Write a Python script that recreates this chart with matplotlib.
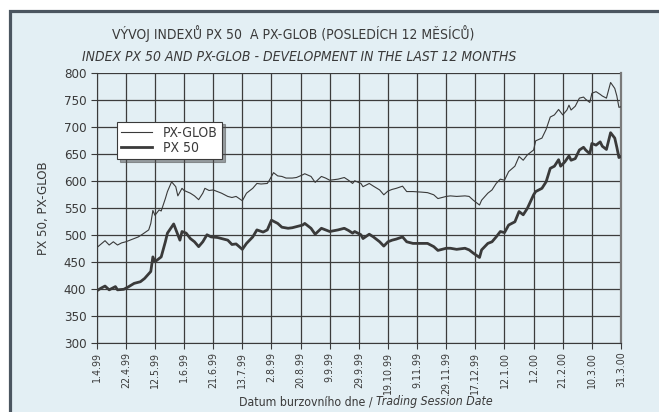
import numpy as np
import matplotlib
matplotlib.use("Agg")
import matplotlib.pyplot as plt
from matplotlib.patches import Rectangle

plt.rcParams['font.family'] = ['DejaVu Sans']
plt.rcParams['font.stretch'] = 'condensed'

# trading session index (0 = 1.4.99, 252 = 31.3.00) and index values
glob_day = [0, 4, 6, 8, 10, 12, 14, 18, 20, 22, 25, 26, 27, 28, 30, 31, 33, 34, 36, 38,
            39, 41, 42, 45, 47, 49, 51, 52, 54, 56, 58, 60, 63, 65, 67, 70, 72, 75, 77, 79,
            82, 83, 85, 87, 89, 91, 94, 96, 99, 100, 103, 105, 108, 110, 112, 116, 119, 121, 123, 124,
            127, 128, 131, 133, 136, 138, 140, 142, 144, 147, 149, 152, 156, 159, 162, 164, 168, 170, 173, 177,
            179, 181, 184, 185, 188, 190, 192, 194, 196, 198, 201, 203, 205, 207, 210, 211, 214, 216, 218, 220,
            222, 224, 226, 227, 228, 230, 232, 234, 235, 237, 238, 240, 242, 243, 245, 247, 249, 250, 251, 252]
px_glob = [477, 490, 482, 488, 482, 486, 488, 494, 497, 502, 510, 522, 546, 537, 547, 545, 568, 581, 599, 590,
           573, 587, 583, 578, 573, 566, 578, 587, 583, 584, 581, 578, 572, 570, 572, 564, 578, 587, 596, 595,
           596, 602, 616, 610, 609, 606, 606, 607, 612, 614, 609, 598, 609, 606, 602, 604, 607, 602, 596, 601,
           596, 590, 596, 591, 584, 575, 582, 585, 587, 591, 581, 581, 580, 579, 575, 568, 572, 573, 572, 573,
           572, 565, 556, 565, 578, 584, 596, 604, 602, 618, 628, 646, 639, 649, 658, 675, 680, 696, 719, 723,
           733, 723, 732, 741, 732, 739, 754, 756, 752, 746, 763, 766, 761, 758, 754, 783, 772, 758, 737, 738]

px50_day = [0, 2, 4, 6, 9, 10, 13, 15, 18, 21, 23, 26, 27, 28, 30, 31, 33, 34, 37, 39,
            40, 41, 43, 45, 47, 49, 51, 53, 55, 58, 60, 63, 65, 67, 70, 72, 75, 77, 80, 82,
            84, 87, 89, 92, 94, 96, 99, 100, 103, 105, 108, 110, 112, 116, 119, 121, 123, 124, 127, 128,
            131, 133, 136, 138, 140, 142, 144, 147, 149, 152, 156, 159, 162, 164, 168, 170, 173, 177, 179, 181,
            184, 185, 188, 190, 192, 194, 196, 198, 201, 203, 205, 207, 210, 211, 214, 216, 218, 220, 222, 223,
            225, 227, 228, 230, 232, 234, 235, 237, 238, 240, 242, 243, 245, 247, 249, 250, 251, 252]
px50 = [397, 402, 406, 399, 405, 399, 400, 404, 411, 414, 420, 433, 460, 451, 457, 460, 488, 504, 521, 501,
        491, 507, 504, 494, 488, 479, 488, 501, 497, 496, 494, 491, 483, 484, 474, 485, 497, 510, 506, 510,
        528, 522, 515, 513, 514, 516, 519, 522, 513, 502, 513, 510, 507, 510, 513, 509, 504, 507, 501, 494,
        502, 497, 488, 480, 488, 491, 493, 497, 488, 485, 485, 485, 479, 472, 476, 476, 474, 476, 473, 467,
        459, 473, 485, 488, 497, 507, 505, 519, 525, 544, 538, 550, 575, 581, 587, 599, 624, 628, 640, 628,
        636, 647, 639, 642, 658, 663, 658, 651, 670, 667, 673, 665, 659, 690, 680, 663, 644, 646]

tick_labels = ['1.4.99', '22.4.99', '12.5.99', '1.6.99', '21.6.99', '13.7.99', '2.8.99', '20.8.99',
               '9.9.99', '29.9.99', '19.10.99', '9.11.99', '29.11.99', '17.12.99', '12.1.00', '1.2.00',
               '21.2.00', '10.3.00', '31.3.00']

bg = '#e3eff4'
ink = '#3a3a3a'

fig = plt.figure(figsize=(6.59, 4.12), dpi=100)
fig.patch.set_facecolor('white')
# panel with dark border on left/top (cropped at right/bottom)
panel = Rectangle((9.5 / 659, -0.05), 1.2, 1 - 10.5 / 412 + 0.05,
                  transform=fig.transFigure, facecolor=bg,
                  edgecolor='#4b5660', linewidth=2.3, zorder=-5)
fig.patches.append(panel)

ax = fig.add_axes([96.7 / 659, 1 - 343.3 / 412, (621 - 96.7) / 659, (343.3 - 73.3) / 412])
ax.set_facecolor(bg)
ax.set_zorder(2)

ax.plot(glob_day, px_glob, color=ink, lw=0.8, label='PX-GLOB', zorder=3)
ax.plot(px50_day, px50, color=ink, lw=2.0, label='PX 50', zorder=3)

ax.set_xlim(0, 252)
ax.set_ylim(300, 800)
ax.set_yticks(np.arange(300, 801, 50))
ax.set_xticks(np.arange(0, 253, 14))
ax.set_xticklabels(tick_labels, rotation=90, fontsize=7.6, color=ink)
ax.tick_params(axis='y', labelsize=9.5, labelcolor=ink, length=4, color=ink)
ax.tick_params(axis='x', length=4, color=ink, pad=2)
ax.grid(True, color='#3c3c3c', lw=0.9)
ax.set_axisbelow(True)
ax.spines['top'].set_visible(False)
ax.spines['left'].set_color(ink)
ax.spines['bottom'].set_color(ink)
ax.spines['right'].set_color('#7a7a7a')
ax.spines['right'].set_linewidth(1.6)

ax.set_ylabel('PX 50, PX-GLOB', fontsize=9.5, color=ink, labelpad=10)
fig.text(376 / 659, 1 - 402 / 412, 'Datum burzovního dne / ', ha='right', va='center',
         fontsize=8.8, color=ink)
fig.text(376 / 659, 1 - 402 / 412, 'Trading Session Date', ha='left', va='center',
         fontsize=8.8, color=ink, style='italic')

fig.text(293 / 659, 1 - 34 / 412, 'VÝVOJ INDEXŮ PX 50  A PX-GLOB (POSLEDÍCH 12 MĚSÍCŮ)',
         ha='center', va='center', fontsize=10, color=ink)
fig.text(299 / 659, 1 - 57 / 412, 'INDEX PX 50 AND PX-GLOB - DEVELOPMENT IN THE LAST 12 MONTHS',
         ha='center', va='center', fontsize=10, color=ink, style='italic')

leg = ax.legend(loc='upper left', bbox_to_anchor=(0.0387, 0.821), fontsize=10,
                frameon=True, fancybox=False, shadow=True, borderpad=0.3,
                handlelength=2.2, labelspacing=0.1, borderaxespad=0)
leg.get_frame().set_edgecolor(ink)
leg.get_frame().set_facecolor('white')
leg.get_frame().set_linewidth(0.8)
for t in leg.get_texts():
    t.set_color(ink)

fig.savefig('out.png', dpi=100)
